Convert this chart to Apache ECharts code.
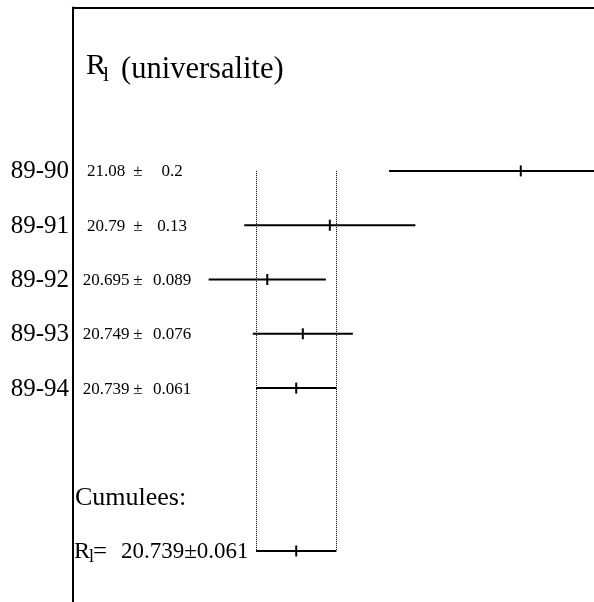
<!DOCTYPE html>
<html>
<head>
<meta charset="utf-8">
<script src="https://cdn.jsdelivr.net/npm/echarts@6/dist/echarts.min.js"></script>
<style>
  html, body { margin: 0; padding: 0; background: #fff; }
  #chart { width: 594px; height: 602px; }
</style>
</head>
<body>
<div id="chart"></div>
<script>
// Measurements per running period
const periods = ['89-90', '89-91', '89-92', '89-93', '89-94'];
const values = [21.08, 20.79, 20.695, 20.749, 20.739];
const errors = [0.2, 0.13, 0.089, 0.076, 0.061];
const rowIndex = [0, 1, 2, 3, 4];

// Combined result
const combinedValue = 20.739;
const combinedError = 0.061;
const combinedRow = 7;
const combinedCaptionRow = 6;

const FONT = '"Liberation Serif", "Times New Roman", serif';
const chart = echarts.init(document.getElementById('chart'), null, { renderer: 'canvas' });

function txt(x, y, text, size, align) {
  return {
    type: 'text',
    style: {
      x: x, y: y, text: text, fill: '#000',
      font: size + 'px ' + FONT,
      align: align || 'left', verticalAlign: 'middle'
    }
  };
}

function errBar(api, v, row, e) {
  const l = api.coord([v - e, row]);
  const r = api.coord([v + e, row]);
  const c = api.coord([v, row]);
  return [
    { type: 'line', shape: { x1: l[0], y1: l[1], x2: r[0], y2: r[1] },
      style: { stroke: '#000', lineWidth: 2 } },
    { type: 'line', shape: { x1: c[0], y1: c[1] - 5.5, x2: c[0], y2: c[1] + 5.5 },
      style: { stroke: '#000', lineWidth: 2 } }
  ];
}

function renderPeriod(params, api) {
  const v = api.value(0), row = api.value(1), e = api.value(2);
  const i = params.dataIndex;
  const x0 = params.coordSys.x;
  const y = api.coord([v, row])[1];
  const children = errBar(api, v, row, e);
  children.push(txt(x0 - 4, y + 1, periods[i], 25, 'right'));
  children.push(txt(x0 + 33, y + 1, String(values[i]), 17, 'center'));
  children.push(txt(x0 + 65, y + 1, '\u00b1', 17, 'center'));
  children.push(txt(x0 + 99, y + 1, String(errors[i]), 17, 'center'));
  return { type: 'group', children: children };
}

function renderCombined(params, api) {
  const v = api.value(0), row = api.value(1), e = api.value(2);
  const x0 = params.coordSys.x;
  const children = [];
  // dotted band of the combined uncertainty
  [v - e, v + e].forEach(function (bx) {
    const a = api.coord([bx, rowIndex[0]]);
    const b = api.coord([bx, row]);
    const px = Math.round(a[0]) + 0.5;
    children.push({ type: 'line', shape: { x1: px, y1: a[1], x2: px, y2: b[1] },
      style: { stroke: '#000', lineWidth: 1, lineDash: [1, 1] } });
  });
  Array.prototype.push.apply(children, errBar(api, v, row, e));
  const yc = api.coord([v, combinedCaptionRow])[1];
  children.push(txt(x0 + 2, yc + 1, 'Cumulees:', 26, 'left'));
  const y = api.coord([v, row])[1];
  children.push(txt(x0 + 1, y + 1, 'R', 24, 'left'));
  children.push(txt(x0 + 16, y + 6, 'l', 18, 'left'));
  children.push(txt(x0 + 20, y + 1, '=', 25, 'left'));
  children.push(txt(x0 + 48, y + 1, String(combinedValue) + '\u00b1' + String(combinedError), 23, 'left'));
  return { type: 'group', children: children };
}

chart.setOption({
  backgroundColor: '#fff',
  animation: false,
  grid: { left: 73, right: 0, top: 7.5, bottom: 0 },
  xAxis: {
    type: 'value', position: 'top', min: 20.4, max: 21.1912,
    axisLine: { show: true, onZero: false, lineStyle: { color: '#000', width: 2 } },
    axisTick: { show: false }, axisLabel: { show: false }, splitLine: { show: false }
  },
  yAxis: {
    type: 'value', inverse: true, min: -3.01, max: 7.94,
    axisLine: { show: true, onZero: false, lineStyle: { color: '#000', width: 2 } },
    axisTick: { show: false }, axisLabel: { show: false }, splitLine: { show: false }
  },
  graphic: [
    { type: 'text', left: 86, top: 51,
      style: { text: 'R', fill: '#000', font: '30px ' + FONT } },
    { type: 'text', left: 103, top: 64,
      style: { text: 'l', fill: '#000', font: '22px ' + FONT } },
    { type: 'text', left: 121, top: 54,
      style: { text: '(universalite)', fill: '#000', font: '30.5px ' + FONT } }
  ],
  series: [
    {
      type: 'custom', clip: false, silent: true,
      data: rowIndex.map(function (r, i) { return [values[i], r, errors[i]]; }),
      encode: { x: 0, y: 1 },
      renderItem: renderPeriod
    },
    {
      type: 'custom', clip: false, silent: true,
      data: [[combinedValue, combinedRow, combinedError]],
      encode: { x: 0, y: 1 },
      renderItem: renderCombined
    }
  ]
});
</script>
</body>
</html>
